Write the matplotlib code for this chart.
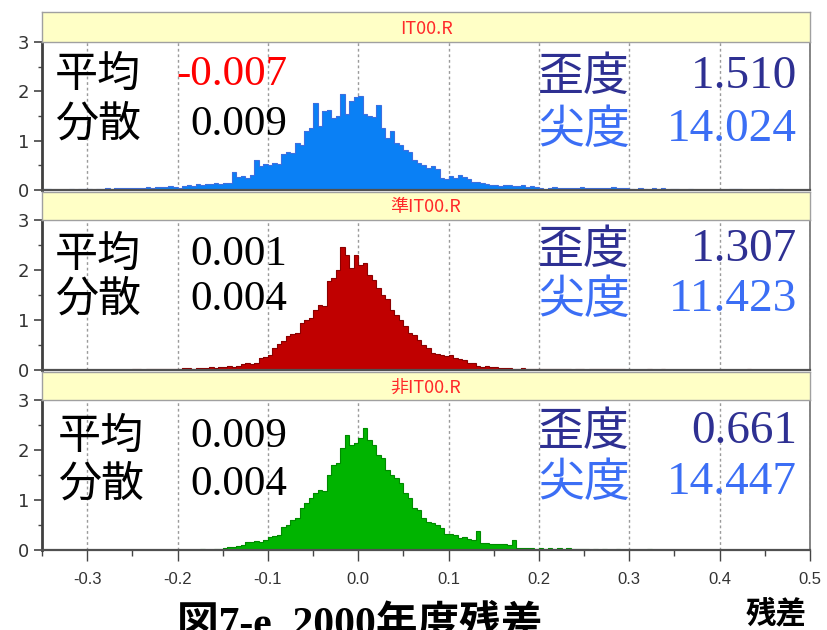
import numpy as np
import matplotlib

matplotlib.use("Agg")
import matplotlib.pyplot as plt
from matplotlib.patches import Rectangle

plt.rcParams["axes.unicode_minus"] = False

W, H = 827, 630

# histogram bins: 0.005 wide from -0.35 to 0.5 (10 bins per row)
BIN_START = -0.35
BIN_WIDTH = 0.005

it_vals = [
    0.03, 0.03, 0, 0, 0, 0, 0.03, 0, 0.03, 0.02,
    0.03, 0, 0.02, 0.03, 0.04, 0.03, 0.04, 0.05, 0.04, 0.05,
    0.05, 0.04, 0.05, 0.06, 0.05, 0.06, 0.07, 0.06, 0.08, 0.06,
    0.05, 0.08, 0.10, 0.09, 0.12, 0.10, 0.13, 0.12, 0.14, 0.13,
    0.14, 0.15, 0.37, 0.26, 0.28, 0.25, 0.30, 0.60, 0.48, 0.52,
    0.50, 0.55, 0.52, 0.72, 0.78, 0.75, 0.95, 0.92, 1.20, 1.25,
    1.76, 1.30, 1.60, 1.62, 1.45, 1.50, 1.95, 1.55, 1.80, 1.88,
    1.90, 1.55, 1.50, 1.48, 1.72, 1.25, 1.05, 1.20, 0.95, 0.92,
    0.82, 0.78, 0.60, 0.55, 0.50, 0.45, 0.48, 0.42, 0.25, 0.22,
    0.28, 0.25, 0.30, 0.26, 0.22, 0.17, 0.16, 0.14, 0.12, 0.10,
    0.10, 0.09, 0.10, 0.11, 0.08, 0.09, 0.10, 0.07, 0.08, 0.06,
    0.05, 0, 0.05, 0.06, 0.04, 0.05, 0.04, 0.05, 0.05, 0.06,
    0.04, 0.05, 0.04, 0.05, 0.04, 0.05, 0.06, 0.05, 0.04, 0.05,
    0.03, 0, 0.04, 0.03, 0, 0.04, 0.03, 0.04, 0, 0.03,
    0.03, 0, 0, 0.03, 0, 0, 0, 0, 0, 0,
    0, 0, 0.03, 0.03, 0.02, 0, 0, 0, 0, 0,
    0, 0.03, 0, 0.03, 0, 0, 0, 0, 0, 0,
]

jun_vals = [
    0, 0, 0, 0, 0, 0, 0, 0, 0, 0,
    0, 0, 0, 0, 0, 0, 0, 0, 0, 0,
    0.02, 0.02, 0, 0.02, 0.02, 0.02, 0.03, 0.02, 0.03, 0.02,
    0.03, 0.04, 0.04, 0.03, 0.05, 0.04, 0.05, 0.06, 0.05, 0.06,
    0.07, 0.08, 0.07, 0.09, 0.12, 0.14, 0.13, 0.15, 0.24, 0.27,
    0.30, 0.45, 0.52, 0.58, 0.68, 0.72, 0.75, 0.95, 1.00, 1.05,
    1.20, 1.30, 1.28, 1.78, 1.85, 2.00, 2.47, 2.30, 2.05, 2.30,
    2.10, 2.15, 1.90, 1.80, 1.65, 1.50, 1.42, 1.20, 1.10, 1.00,
    0.88, 0.75, 0.70, 0.60, 0.50, 0.45, 0.35, 0.32, 0.30, 0.28,
    0.30, 0.25, 0.22, 0.20, 0.15, 0.14, 0.08, 0.07, 0.08, 0.06,
    0.07, 0.05, 0.04, 0.04, 0.03, 0.03, 0.04, 0.03, 0.02, 0.03,
    0.02, 0.03, 0.02, 0.02, 0.03, 0.02, 0.02, 0, 0.02, 0.02,
    0, 0.02, 0.02, 0.02, 0.03, 0.02, 0.02, 0.02, 0.02, 0,
    0, 0, 0, 0, 0.03, 0, 0, 0.03, 0, 0,
    0, 0, 0, 0, 0, 0, 0, 0, 0, 0,
    0, 0, 0, 0, 0, 0, 0.03, 0, 0, 0,
    0, 0, 0, 0, 0, 0, 0, 0, 0, 0,
]

hi_vals = [
    0, 0, 0, 0, 0, 0, 0, 0, 0, 0,
    0, 0, 0, 0.01, 0, 0, 0, 0, 0, 0,
    0, 0, 0, 0, 0, 0, 0, 0.01, 0, 0,
    0, 0, 0.01, 0, 0, 0.02, 0, 0.01, 0.03, 0.03,
    0.04, 0.06, 0.07, 0.08, 0.10, 0.16, 0.17, 0.18, 0.17, 0.20,
    0.26, 0.28, 0.30, 0.47, 0.50, 0.60, 0.65, 0.85, 0.95, 1.05,
    1.15, 1.20, 1.18, 1.50, 1.70, 1.75, 2.05, 2.30, 2.10, 2.15,
    2.25, 2.45, 2.20, 2.10, 1.90, 1.85, 1.60, 1.50, 1.45, 1.35,
    1.15, 1.05, 0.85, 0.80, 0.65, 0.57, 0.55, 0.50, 0.45, 0.32,
    0.32, 0.30, 0.25, 0.26, 0.22, 0.20, 0.38, 0.15, 0.14, 0.13,
    0.12, 0.13, 0.12, 0.11, 0.20, 0.05, 0.04, 0.04, 0.05, 0.03,
    0.04, 0.03, 0.04, 0.03, 0.04, 0.03, 0.04, 0.02, 0.02, 0.03,
    0.02, 0, 0.02, 0, 0.02, 0, 0, 0.02, 0, 0,
    0, 0, 0, 0, 0.02, 0, 0, 0, 0, 0,
    0, 0, 0, 0, 0, 0, 0, 0, 0, 0,
    0, 0, 0, 0, 0, 0, 0, 0, 0, 0,
    0, 0, 0, 0, 0, 0, 0, 0, 0, 0,
]

panel_names = ["IT00.R", "準IT00.R", "非IT00.R"]
panel_series = [it_vals, jun_vals, hi_vals]
bar_colors = ["#0A80F5", "#C00000", "#00B400"]
edge_colors = ["#3D6FE0", "#8A0000", "#008A00"]
means = ["-0.007", "0.001", "0.009"]
mean_colors = ["#FF0000", "#000000", "#000000"]
variances = ["0.009", "0.004", "0.004"]
skews = ["1.510", "1.307", "0.661"]
kurts = ["14.024", "11.423", "14.447"]

x_ticks = [-0.3, -0.2, -0.1, 0.0, 0.1, 0.2, 0.3, 0.4, 0.5]
y_ticks = [0, 1, 2, 3]

# layout in pixels (from top of image)
AX_LEFT, AX_RIGHT = 42, 810
panel_px = [(12, 42, 190), (192, 220, 370), (372, 400, 550)]  # strip top, axes top, axes bottom

CJK = ["Noto Sans CJK JP", "DejaVu Sans"]
SERIF = ["Liberation Serif", "DejaVu Serif"]
NAVY = "#2E3092"
LBLUE = "#3B6EF5"


def fx(px):
    return px / W


def fy(py):
    return 1 - py / H


fig = plt.figure(figsize=(W / 100, H / 100), dpi=100)

edges = BIN_START + BIN_WIDTH * np.arange(len(it_vals) + 1)
centers = edges[:-1] + BIN_WIDTH / 2

for i, (strip_top, ax_top, ax_bot) in enumerate(panel_px):
    ax = fig.add_axes([fx(AX_LEFT), fy(ax_bot), fx(AX_RIGHT - AX_LEFT), (ax_bot - ax_top) / H])
    vals = np.asarray(panel_series[i])
    ax.bar(centers, vals, width=BIN_WIDTH, color=bar_colors[i], linewidth=0, zorder=2)
    ax.stairs(vals, edges, color=edge_colors[i], linewidth=0.8, zorder=2.5)
    ax.set_xlim(-0.35, 0.5)
    ax.set_ylim(0, 3)
    ax.set_xticks(x_ticks)
    ax.set_xticks(np.arange(-0.35, 0.501, 0.05), minor=True)
    ax.set_yticks(y_ticks)
    ax.set_yticks([0.5, 1.5, 2.5], minor=True)
    ax.grid(True, axis="x", which="major", color="#9A9A9A", linestyle=(0, (2, 2)), linewidth=1.0, zorder=0)
    ax.tick_params(axis="y", which="major", length=6, width=1.2, color="#444444",
                   labelsize=13, labelcolor="#333333", pad=3, direction="out")
    ax.tick_params(axis="y", which="minor", length=3, width=1.0, color="#444444")
    ax.tick_params(axis="x", which="both", direction="out", color="#444444")
    ax.tick_params(axis="x", which="major", length=8, width=1.0)
    ax.tick_params(axis="x", which="minor", length=4, width=1.0)
    for side in ["top", "right", "bottom"]:
        ax.spines[side].set_color("#707070")
        ax.spines[side].set_linewidth(1.2)
    ax.spines["left"].set_color("#404040")
    ax.spines["left"].set_linewidth(2.0)
    ax.spines["bottom"].set_color("#505050")
    ax.spines["bottom"].set_linewidth(1.6)
    if i < 2:
        ax.tick_params(axis="x", which="both", bottom=False, labelbottom=False)
    else:
        ax.set_xticklabels([f"{t:.1f}" for t in x_ticks], fontsize=12, color="#333333",
                           family=["Liberation Sans", "DejaVu Sans"])
        ax.tick_params(axis="x", which="major", pad=8)

    # white boxes behind the statistics
    ax.add_patch(Rectangle((fx(50), fy(ax_top + 112 if i else 148)), fx(245), (100 if i else 95) / H,
                           transform=fig.transFigure, facecolor="white", edgecolor="none", zorder=1))
    ax.add_patch(Rectangle((fx(530), fy(ax_top + 112 if i else 152)), fx(275), (112 if i else 102) / H,
                           transform=fig.transFigure, facecolor="white", edgecolor="none", zorder=1))

    # strip
    sax = fig.add_axes([fx(AX_LEFT), fy(ax_top), fx(AX_RIGHT - AX_LEFT), (ax_top - strip_top) / H])
    sax.set_facecolor("#FFFFC6")
    sax.set_xticks([])
    sax.set_yticks([])
    for sp in sax.spines.values():
        sp.set_color("#A0A0A0")
        sp.set_linewidth(1.0)
    sax.text(0.5, 0.45, panel_names[i], transform=sax.transAxes, ha="center", va="center",
             color="#FF2A2A", fontsize=13, family=["Noto Sans CJK JP", "DejaVu Sans"])

# statistics text (pixel positions)
stat_rows = [(75, 125, 77, 130), (255, 300, 250, 300), (437, 485, 432, 483)]
for i, (ym, yv, ys, yk) in enumerate(stat_rows):
    lx = 55 if i < 2 else 58
    fig.text(fx(lx), fy(ym), "平均", family=CJK, fontsize=31, va="center", ha="left", color="black")
    fig.text(fx(lx), fy(yv), "分散", family=CJK, fontsize=31, va="center", ha="left", color="black")
    fig.text(fx(287), fy(ym), means[i], family=SERIF, fontsize=31, va="center", ha="right",
             color=mean_colors[i])
    fig.text(fx(287), fy(yv), variances[i], family=SERIF, fontsize=31, va="center", ha="right",
             color="black")
    fig.text(fx(538), fy(ys), "歪度", family=CJK, fontsize=33, va="center", ha="left", color=NAVY)
    fig.text(fx(538), fy(yk), "尖度", family=CJK, fontsize=33, va="center", ha="left", color=LBLUE)
    fig.text(fx(797), fy(ys), skews[i], family=SERIF, fontsize=34, va="center", ha="right", color=NAVY)
    fig.text(fx(797), fy(yk), kurts[i], family=SERIF, fontsize=34, va="center", ha="right", color=LBLUE)

# caption, clipped at the bottom edge as in the source image
fig.text(fx(360), fy(605), "図7-e  2000年度残差",
         family=["Liberation Serif", "Noto Sans CJK JP", "DejaVu Sans"],
         fontsize=30, fontweight="bold", ha="center", va="top", color="black")
fig.text(fx(776), fy(613), "残差", family=CJK, fontsize=22, fontweight="bold", ha="center",
         va="center", color="black")

fig.savefig("out.png", dpi=100)
